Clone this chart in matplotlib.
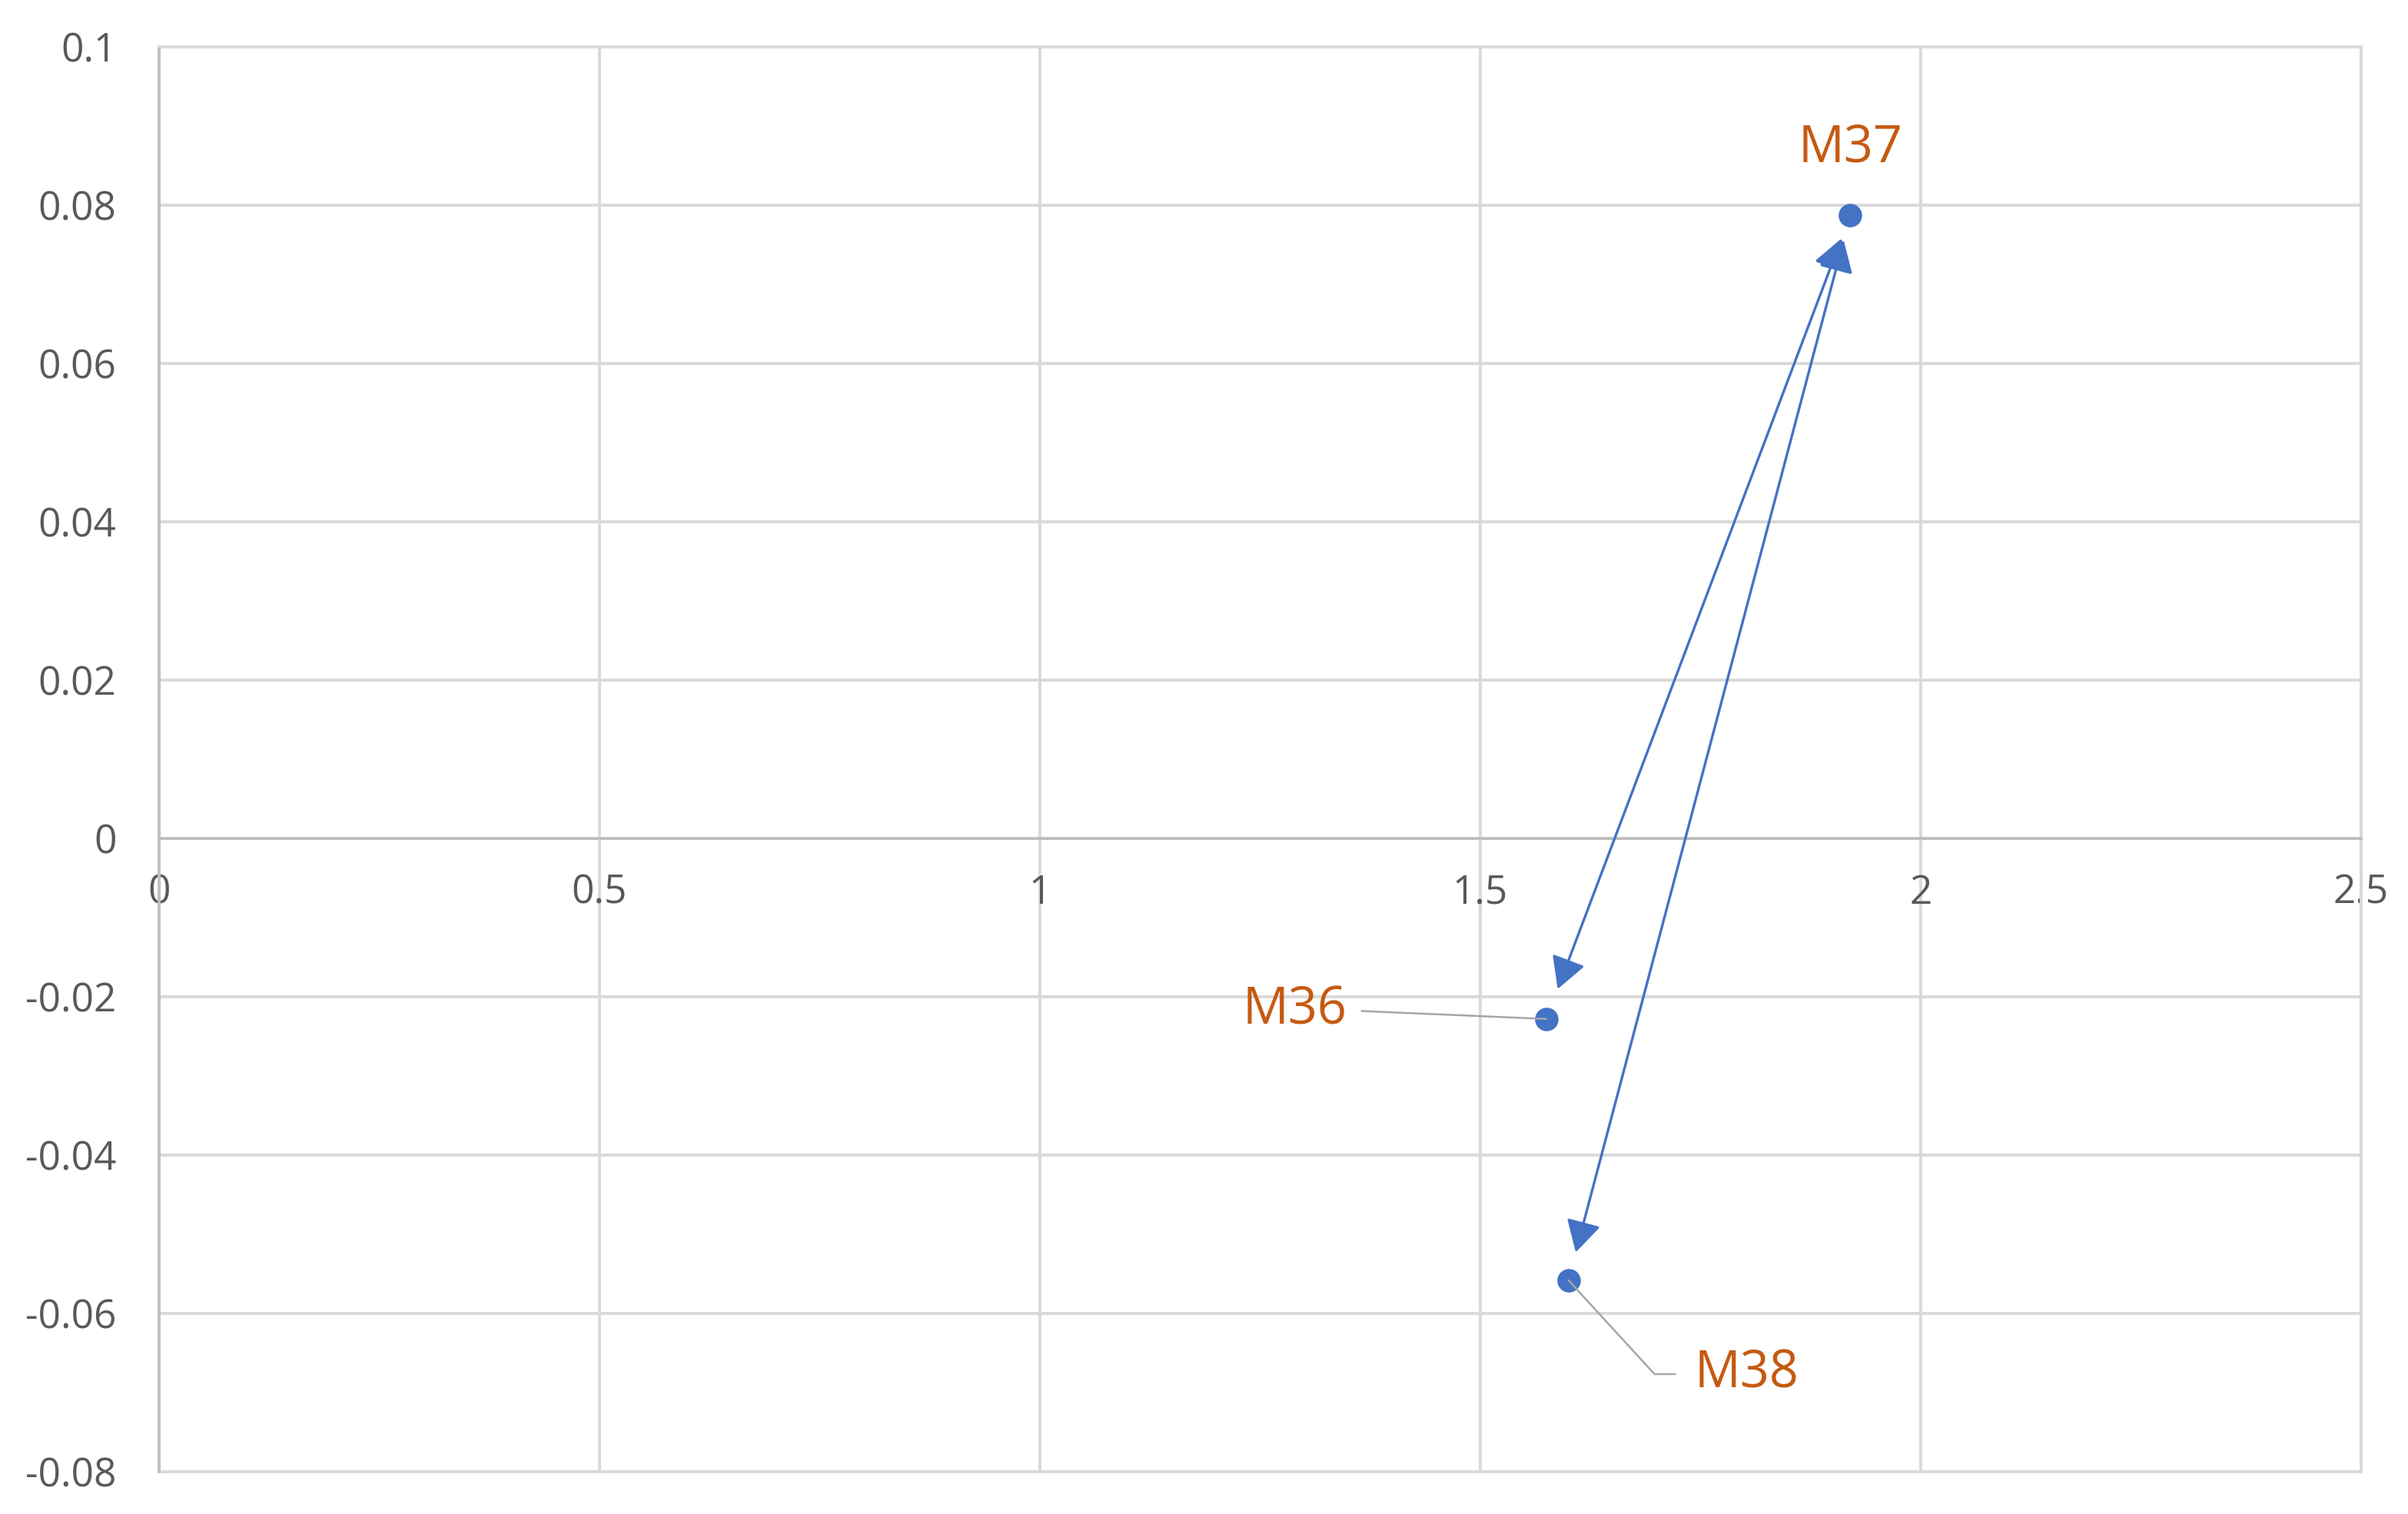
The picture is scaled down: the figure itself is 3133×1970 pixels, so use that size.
import matplotlib
matplotlib.use('Agg')
import matplotlib.pyplot as plt
from matplotlib.ticker import FixedLocator, FixedFormatter

# ---- data ----
point_labels = ['M36', 'M37', 'M38']
x_vals = [1.575, 1.92, 1.60]
y_vals = [-0.0228, 0.0787, -0.0558]
arrow_pairs = [(0, 1), (1, 2)]
x_ticks = [0, 0.5, 1, 1.5, 2, 2.5]
x_tick_labels = ['0', '0.5', '1', '1.5', '2', '2.5']
y_ticks = [-0.08, -0.06, -0.04, -0.02, 0, 0.02, 0.04, 0.06, 0.08, 0.1]
y_tick_labels = ['-0.08', '-0.06', '-0.04', '-0.02', '0', '0.02', '0.04', '0.06', '0.08', '0.1']

plt.rcParams['font.family'] = ['Open Sans', 'DejaVu Sans']

W, H = 3133, 1970
fig = plt.figure(figsize=(W / 100, H / 100), dpi=100)
ax = fig.add_axes([207 / W, 1 - 1915 / H, (3072 - 207) / W, (1915 - 61) / H])

xlim = (x_ticks[0], x_ticks[-1])
ylim = (y_ticks[0], y_ticks[-1])
ax.set_xlim(*xlim)
ax.set_ylim(*ylim)

grid_c = '#D9D9D9'
axis_c = '#BFBFBF'
ax.xaxis.set_major_locator(FixedLocator(x_ticks))
ax.xaxis.set_major_formatter(FixedFormatter(x_tick_labels))
ax.yaxis.set_major_locator(FixedLocator(y_ticks))
ax.yaxis.set_major_formatter(FixedFormatter(y_tick_labels))
ax.grid(True, color=grid_c, lw=2.8, zorder=0)
ax.set_axisbelow(True)

for s in ['top', 'right']:
    ax.spines[s].set_color(grid_c)
    ax.spines[s].set_linewidth(2.8)
ax.spines['bottom'].set_position(('data', 0))
ax.spines['bottom'].set_color(axis_c)
ax.spines['bottom'].set_linewidth(2.8)
ax.spines['left'].set_color(axis_c)
ax.spines['left'].set_linewidth(2.8)
ax.axhline(ylim[0], color=grid_c, lw=2.8, clip_on=False, zorder=0)

ax.tick_params(axis='both', length=0, labelsize=37, labelcolor='#595959')
ax.tick_params(axis='x', pad=33)
ax.tick_params(axis='y', pad=40)

# arrows
shrinks = [(30, 23), (24, 27)]
for (i, j), (sa, sb) in zip(arrow_pairs, shrinks):
    ax.annotate('', xy=(x_vals[j], y_vals[j]), xytext=(x_vals[i], y_vals[i]),
                arrowprops=dict(arrowstyle='<|-|>,head_length=0.9,head_width=0.5',
                                color='#4472C4', lw=2.4, shrinkA=sa, shrinkB=sb,
                                mutation_scale=28),
                zorder=3)

ax.scatter(x_vals, y_vals, s=22 ** 2, color='#4472C4', zorder=4, linewidths=0)

lab_c = '#C55A11'
lead_c = '#A6A6A6'
fs = 48
# M36: to the left with a leader
ax.annotate(point_labels[0], xy=(x_vals[0], y_vals[0]), xytext=(-187, 8),
            textcoords='offset points', ha='right', va='center', fontsize=fs, color=lab_c,
            arrowprops=dict(arrowstyle='-', color=lead_c, lw=1.8, relpos=(1, 0.5),
                            shrinkA=12, shrinkB=0), zorder=5)
# M37: above
ax.annotate(point_labels[1], xy=(x_vals[1], y_vals[1]), xytext=(0, 63),
            textcoords='offset points', ha='center', va='center', fontsize=fs, color=lab_c,
            zorder=5)
# M38: below right with bent leader
ax.annotate(point_labels[2], xy=(x_vals[2], y_vals[2]), xytext=(118, -88),
            textcoords='offset points', ha='left', va='center', fontsize=fs, color=lab_c,
            arrowprops=dict(arrowstyle='-', color=lead_c, lw=1.8, relpos=(0, 0.5),
                            shrinkA=16, shrinkB=0,
                            connectionstyle='angle,angleA=0,angleB=-47.5,rad=0'),
            zorder=5)

fig.savefig('out.png', dpi=100, facecolor='white')
